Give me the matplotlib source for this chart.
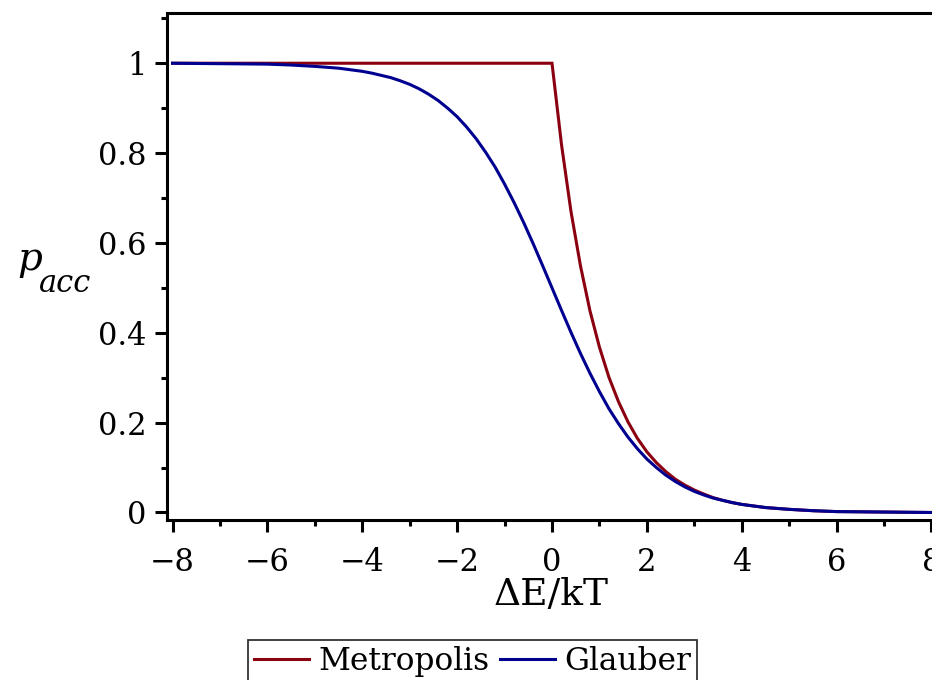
import matplotlib
matplotlib.use('Agg')
import matplotlib.pyplot as plt
from matplotlib.ticker import MultipleLocator, FixedLocator

## Values
x_metro = [-8.0, 0.0, 0.2, 0.4, 0.6, 0.8, 1.0, 1.2, 1.4, 1.6, 1.8, 2.0, 2.2,
           2.4, 2.6, 2.8, 3.0, 3.2, 3.4, 3.6, 3.8, 4.0, 4.5, 5.0, 5.5, 6.0,
           7.0, 8.0]
p_metro = [1.0, 1.0, 0.819, 0.670, 0.549, 0.449, 0.368, 0.301, 0.247, 0.202,
           0.165, 0.135, 0.111, 0.091, 0.074, 0.061, 0.050, 0.041, 0.033,
           0.027, 0.022, 0.018, 0.011, 0.007, 0.004, 0.002, 0.001, 0.000]

x_glaub = [-8.0, -7.0, -6.0, -5.5, -5.0, -4.5, -4.0, -3.8, -3.6, -3.4, -3.2,
           -3.0, -2.8, -2.6, -2.4, -2.2, -2.0, -1.8, -1.6, -1.4, -1.2, -1.0,
           -0.8, -0.6, -0.4, -0.2, 0.0, 0.2, 0.4, 0.6, 0.8, 1.0, 1.2, 1.4,
           1.6, 1.8, 2.0, 2.2, 2.4, 2.6, 2.8, 3.0, 3.2, 3.4, 3.6, 3.8, 4.0,
           4.5, 5.0, 5.5, 6.0, 7.0, 8.0]
p_glaub = [1.000, 0.999, 0.998, 0.996, 0.993, 0.989, 0.982, 0.978, 0.973,
           0.968, 0.961, 0.953, 0.943, 0.931, 0.917, 0.900, 0.881, 0.858,
           0.832, 0.802, 0.769, 0.731, 0.690, 0.646, 0.599, 0.550, 0.500,
           0.450, 0.401, 0.354, 0.310, 0.269, 0.231, 0.198, 0.168, 0.142,
           0.119, 0.100, 0.083, 0.069, 0.057, 0.047, 0.039, 0.032, 0.027,
           0.022, 0.018, 0.011, 0.007, 0.004, 0.002, 0.001, 0.000]

xticks = [-8, -6, -4, -2, 0, 2, 4, 6, 8]
yticks = [0, 0.2, 0.4, 0.6, 0.8, 1]
yticklabels = ['0', '0.2', '0.4', '0.6', '0.8', '1']

plt.rcParams['font.family'] = ['DejaVu Serif']

fig = plt.figure(figsize=(9.32, 6.8), dpi=100)
ax = fig.add_axes([0.179, 0.2353, 0.851, 0.7457])

ax.plot(x_metro, p_metro, color='#8b0010', lw=2.2, label='Metropolis',
        zorder=3, solid_joinstyle='miter')
ax.plot(x_glaub, p_glaub, color='#000090', lw=2.2, label='Glauber', zorder=3)

ax.set_xlim(-8.12, 8.6)
ax.set_ylim(-0.0167, 1.112)

ax.spines['right'].set_visible(False)
for s in ['left', 'bottom', 'top']:
    ax.spines[s].set_linewidth(2.2)

ax.set_xticks(xticks)
ax.set_xticklabels([('\u2212' + str(-v)) if v < 0 else str(v) for v in xticks])
ax.xaxis.set_minor_locator(FixedLocator([-7, -5, -3, -1, 1, 3, 5, 7]))
ax.set_yticks(yticks)
ax.set_yticklabels(yticklabels)
ax.yaxis.set_minor_locator(MultipleLocator(0.1))

ax.tick_params(axis='both', which='major', direction='out', length=8.5,
               width=2.2, labelsize=22)
ax.tick_params(axis='both', which='minor', direction='out', length=4,
               width=2.2)
ax.tick_params(axis='x', which='major', pad=11)
ax.tick_params(axis='y', which='major', pad=6)

# x label centred under x = 0, as in the original
ax.set_xlabel('\u0394E/kT', fontsize=27)
ax.xaxis.set_label_coords(0.484, -0.112)

# y label: italic p with a large "acc" subscript
fig.text(17 / 932, 1 - 270 / 680, 'p', fontsize=28, fontstyle='italic',
         ha='left', va='baseline')
fig.text(39 / 932, 1 - 292 / 680, 'acc', fontsize=22, fontstyle='italic',
         ha='left', va='baseline')

leg = fig.legend(loc='upper center', bbox_to_anchor=(0.507, 0.0588), ncol=2,
                 fontsize=22.5, frameon=True, fancybox=False,
                 edgecolor='black', handlelength=1.75, handletextpad=0.3,
                 columnspacing=0.35, borderpad=0.2, borderaxespad=0)
leg.get_frame().set_linewidth(1.3)

fig.savefig('out.png', dpi=100)
